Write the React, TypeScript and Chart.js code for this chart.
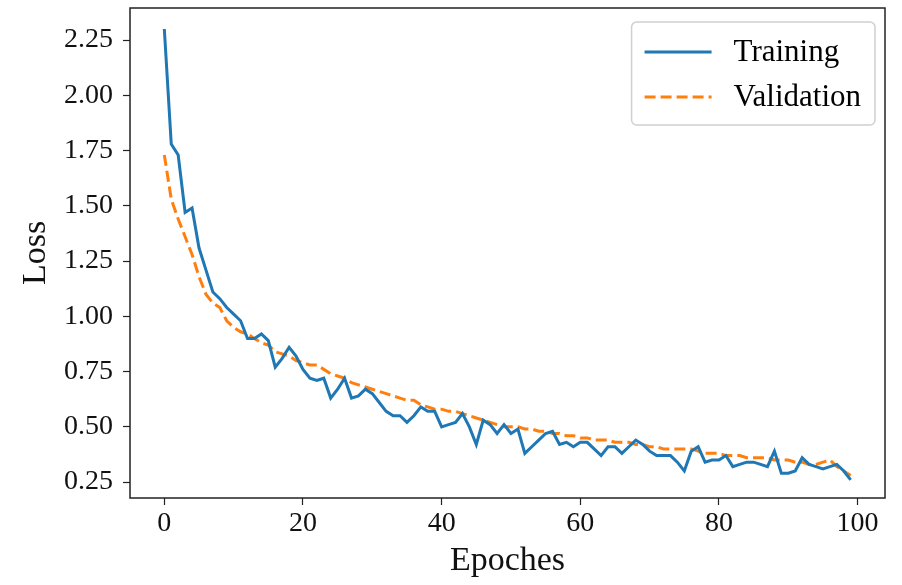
import React, { useEffect, useRef } from 'react';
import { Chart, registerables } from 'chart.js';

Chart.register(...registerables);

const seriesLabels = ['Training', 'Validation'];

const trainingLoss = [
  2.30, 1.78, 1.73, 1.47, 1.49, 1.31, 1.21, 1.11, 1.08, 1.04,
  1.01, 0.98, 0.90, 0.90, 0.92, 0.89, 0.77, 0.81, 0.86, 0.82,
  0.76, 0.72, 0.71, 0.72, 0.63, 0.67, 0.72, 0.63, 0.64, 0.67,
  0.65, 0.61, 0.57, 0.55, 0.55, 0.52, 0.55, 0.59, 0.57, 0.57,
  0.50, 0.51, 0.52, 0.56, 0.50, 0.42, 0.53, 0.51, 0.47, 0.51,
  0.47, 0.49, 0.38, 0.41, 0.44, 0.47, 0.48, 0.42, 0.43, 0.41,
  0.43, 0.43, 0.40, 0.37, 0.41, 0.41, 0.38, 0.41, 0.44, 0.42,
  0.39, 0.37, 0.37, 0.37, 0.34, 0.30, 0.39, 0.41, 0.34, 0.35,
  0.35, 0.37, 0.32, 0.33, 0.34, 0.34, 0.33, 0.32, 0.39, 0.29,
  0.29, 0.30, 0.36, 0.33, 0.32, 0.31, 0.32, 0.33, 0.30, 0.26,
];

const validationLoss = [
  1.73, 1.53, 1.44, 1.36, 1.28, 1.18, 1.10, 1.06, 1.04, 0.98,
  0.95, 0.93, 0.92, 0.90, 0.88, 0.87, 0.84, 0.83, 0.82, 0.80,
  0.79, 0.78, 0.78, 0.76, 0.74, 0.73, 0.72, 0.70, 0.69, 0.68,
  0.67, 0.66, 0.65, 0.64, 0.63, 0.62, 0.62, 0.60, 0.59, 0.58,
  0.58, 0.57, 0.57, 0.56, 0.55, 0.54, 0.53, 0.52, 0.51, 0.50,
  0.50, 0.50, 0.49, 0.49, 0.48, 0.48, 0.47, 0.47, 0.46, 0.46,
  0.45, 0.45, 0.44, 0.44, 0.44, 0.43, 0.43, 0.43, 0.42, 0.42,
  0.41, 0.41, 0.40, 0.40, 0.40, 0.40, 0.40, 0.39, 0.38, 0.38,
  0.38, 0.37, 0.37, 0.37, 0.36, 0.36, 0.36, 0.36, 0.35, 0.35,
  0.35, 0.34, 0.34, 0.33, 0.33, 0.34, 0.35, 0.32, 0.30, 0.28,
];

const xTickValues = [0, 20, 40, 60, 80, 100];
const yTickValues = [0.25, 0.5, 0.75, 1.0, 1.25, 1.5, 1.75, 2.0, 2.25];

const FONT = '"Liberation Serif", "DejaVu Serif", "Times New Roman", serif';
const BLUE = '#1f77b4';
const ORANGE = '#ff7f0e';

const framePlugin = {
  id: 'mplFrame',
  afterDatasetsDraw(chart: any) {
    const { ctx, chartArea: a } = chart;
    ctx.save();
    ctx.strokeStyle = '#222';
    ctx.lineWidth = 1.5;
    ctx.strokeRect(a.left, a.top, a.right - a.left, a.bottom - a.top);
    ctx.restore();
  },
};

const legendPlugin = {
  id: 'mplLegend',
  afterDraw(chart: any) {
    const { ctx, chartArea: a } = chart;
    const ds = chart.data.datasets;
    ctx.save();
    ctx.font = `31px ${FONT}`;
    let maxW = 0;
    ds.forEach((d: any) => {
      maxW = Math.max(maxW, ctx.measureText(d.label).width);
    });
    const w = 102 + maxW + 14;
    const h = 103;
    const x = a.right - 10 - w;
    const y = a.top + 14;
    ctx.fillStyle = 'rgba(255,255,255,0.8)';
    ctx.strokeStyle = '#d0d0d0';
    ctx.lineWidth = 1.5;
    ctx.beginPath();
    (ctx as any).roundRect(x, y, w, h, 5);
    ctx.fill();
    ctx.stroke();
    ds.forEach((d: any, i: number) => {
      const cy = y + 30 + i * 45;
      ctx.strokeStyle = d.borderColor;
      ctx.lineWidth = d.borderWidth;
      ctx.setLineDash(d.borderDash || []);
      ctx.beginPath();
      ctx.moveTo(x + 13, cy);
      ctx.lineTo(x + 80, cy);
      ctx.stroke();
      ctx.setLineDash([]);
      ctx.fillStyle = '#000';
      ctx.textBaseline = 'middle';
      ctx.textAlign = 'left';
      ctx.fillText(d.label, x + 102, cy + 1);
    });
    ctx.restore();
  },
};

export default function App() {
  const canvasRef = useRef<HTMLCanvasElement | null>(null);

  useEffect(() => {
    const canvas = canvasRef.current;
    if (!canvas) return;
    const toPoints = (arr: number[]) => arr.map((v, i) => ({ x: i, y: v }));
    const chart = new Chart(canvas, {
      type: 'line',
      data: {
        datasets: [
          {
            label: seriesLabels[0],
            data: toPoints(trainingLoss),
            borderColor: BLUE,
            borderWidth: 3,
            pointRadius: 0,
            fill: false,
            tension: 0,
          },
          {
            label: seriesLabels[1],
            data: toPoints(validationLoss),
            borderColor: ORANGE,
            borderWidth: 3,
            borderDash: [11, 5],
            pointRadius: 0,
            fill: false,
            tension: 0,
          },
        ],
      },
      options: {
        animation: false,
        responsive: false,
        maintainAspectRatio: false,
        layout: { padding: { top: 8, right: 17, left: 0, bottom: 0 } },
        plugins: {
          legend: { display: false },
          tooltip: { enabled: false },
        },
        scales: {
          x: {
            type: 'linear',
            min: -4.95,
            max: 103.95,
            afterBuildTicks: (s: any) => {
              s.ticks = xTickValues.map((v) => ({ value: v }));
            },
            afterFit: (s: any) => {
              s.height = 87;
              s.paddingLeft = 0;
              s.paddingRight = 0;
            },
            grid: {
              drawOnChartArea: false,
              drawTicks: true,
              tickLength: 7,
              tickColor: '#222',
              tickWidth: 1.2,
            },
            border: { display: false },
            ticks: {
              color: '#111',
              padding: 2,
              maxRotation: 0,
              autoSkip: false,
              font: { family: FONT, size: 28 },
              callback: (v: any) => String(v),
            },
            title: {
              display: true,
              text: 'Epoches',
              color: '#111',
              font: { family: FONT, size: 34 },
              padding: { top: 0, bottom: 4 },
            },
          },
          y: {
            type: 'linear',
            min: 0.178,
            max: 2.395,
            afterBuildTicks: (s: any) => {
              s.ticks = yTickValues.map((v) => ({ value: v }));
            },
            afterFit: (s: any) => {
              s.width = 130;
              s.paddingTop = 0;
              s.paddingBottom = 0;
            },
            grid: {
              drawOnChartArea: false,
              drawTicks: true,
              tickLength: 7,
              tickColor: '#222',
              tickWidth: 1.2,
            },
            border: { display: false },
            ticks: {
              color: '#111',
              padding: 10,
              autoSkip: false,
              font: { family: FONT, size: 28 },
              callback: (v: any) => Number(v).toFixed(2),
            },
            title: {
              display: true,
              text: 'Loss',
              color: '#111',
              font: { family: FONT, size: 34 },
              padding: { top: 16, bottom: 0 },
            },
          },
        },
      },
      plugins: [framePlugin, legendPlugin],
    } as any);
    return () => chart.destroy();
  }, []);

  return (
    <div style={{ position: 'absolute', left: 0, top: 0, width: 902, height: 585, background: '#fff' }}>
      <canvas ref={canvasRef} width={902} height={585} style={{ width: 902, height: 585 }} />
    </div>
  );
}
